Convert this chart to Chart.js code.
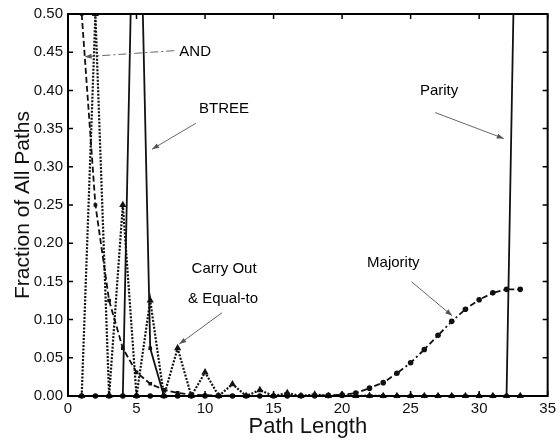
<!DOCTYPE html>
<html>
<head>
<meta charset="utf-8">
<script src="https://cdn.jsdelivr.net/npm/chart.js@4.4.1/dist/chart.umd.min.js"></script>
<style>
  html, body { margin: 0; padding: 0; background: #ffffff; }
  #wrap { width: 560px; height: 442px; position: relative; }
</style>
</head>
<body>
<div id="wrap"><canvas id="c" width="560" height="442"></canvas></div>
<script>
// ---- data ----
const pathLength = [1,2,3,4,5,6,7,8,9,10,11,12,13,14,15,16,17,18,19,20,21,22,23,24,25,26,27,28,29,30,31,32,33];
const andFrac    = [0.5,0.25,0.125,0.0625,0.031,0.016,0.008,0.004,0.002,0.001,0.0005,0.0003,0,0,0,0,0,0,0,0,0,0,0,0,0,0,0,0,0,0,0,0,0];
const carryFrac  = [0,0.5,0,0.25,0,0.125,0,0.0625,0,0.031,0,0.0155,0,0.0078,0,0.004,0,0.002,0,0.001,0,0.0005,0,0,0,0,0,0,0,0,0,0,0];
const btreeFrac  = [0,0,0,0,0.875,0.0625,0,0,0,0,0,0,0,0,0,0,0,0,0,0,0,0,0,0,0,0,0,0,0,0,0,0,0];
const majorityFrac = [0,0,0,0,0,0,0,0,0,0,0,0,0,0,0,0,0.0002,0.0004,0.0008,0.0015,0.0038,0.0103,0.0175,0.0297,0.0435,0.0609,0.0795,0.0977,0.1136,0.126,0.135,0.1396,0.1396];
const parityFrac = [0,0,0,0,0,0,0,0,0,0,0,0,0,0,0,0,0,0,0,0,0,0,0,0,0,0,0,0,0,0,0,0,1.0];

const xTicks = [0,5,10,15,20,25,30,35];
const yTicks = [0,0.05,0.10,0.15,0.20,0.25,0.30,0.35,0.40,0.45,0.50];

// annotation labels & arrows (data units)
const labelTexts = ['AND','BTREE','Carry Out','& Equal-to','Majority','Parity'];
const labelX     = [9.28, 11.39, 11.39, 11.31, 23.74, 27.08];
const labelY     = [0.450, 0.376, 0.167, 0.127, 0.174, 0.400];
const arrowFrom  = [[7.75,0.452],[9.33,0.357],[11.24,0.109],[25.07,0.1495],[26.79,0.371]];
const arrowTo    = [[1.21,0.444],[6.13,0.323],[8.12,0.068],[28.03,0.105],[31.8,0.337]];

function pts(arr){ return pathLength.map((x,i)=>({x:x, y:arr[i]})); }

const FONT = "'Liberation Sans', Arial, Helvetica, sans-serif";

const framePlugin = {
  id: 'framePlugin',
  afterDatasetsDraw(chart) {
    const ctx = chart.ctx;
    const a = chart.chartArea;
    const xs = chart.scales.x, ys = chart.scales.y;
    ctx.save();
    // border
    ctx.strokeStyle = '#000';
    ctx.lineWidth = 2;
    ctx.strokeRect(a.left, a.top, a.right - a.left, a.bottom - a.top);
    // inward ticks
    ctx.lineWidth = 1.5;
    ctx.beginPath();
    xTicks.forEach(v => {
      const px = xs.getPixelForValue(v);
      ctx.moveTo(px, a.bottom); ctx.lineTo(px, a.bottom - 5);
      ctx.moveTo(px, a.top); ctx.lineTo(px, a.top + 5);
    });
    yTicks.forEach(v => {
      const py = ys.getPixelForValue(v);
      ctx.moveTo(a.left, py); ctx.lineTo(a.left + 5, py);
      ctx.moveTo(a.right, py); ctx.lineTo(a.right - 5, py);
    });
    ctx.stroke();
    // annotation texts
    ctx.fillStyle = '#000';
    ctx.font = '15px ' + FONT;
    ctx.textAlign = 'center';
    ctx.textBaseline = 'middle';
    labelTexts.forEach((t,i) => {
      ctx.fillText(t, xs.getPixelForValue(labelX[i]), ys.getPixelForValue(labelY[i]));
    });
    // arrows
    ctx.strokeStyle = '#666';
    ctx.fillStyle = '#555';
    ctx.lineWidth = 1;
    arrowFrom.forEach((f,i) => {
      const x1 = xs.getPixelForValue(f[0]), y1 = ys.getPixelForValue(f[1]);
      const x2 = xs.getPixelForValue(arrowTo[i][0]), y2 = ys.getPixelForValue(arrowTo[i][1]);
      ctx.setLineDash(i === 0 ? [8,3,2,3] : []);
      ctx.beginPath(); ctx.moveTo(x1,y1); ctx.lineTo(x2,y2); ctx.stroke();
      ctx.setLineDash([]);
      const ang = Math.atan2(y2-y1, x2-x1);
      const L = 7, W = 2.5;
      ctx.beginPath();
      ctx.moveTo(x2, y2);
      ctx.lineTo(x2 - L*Math.cos(ang) + W*Math.sin(ang), y2 - L*Math.sin(ang) - W*Math.cos(ang));
      ctx.lineTo(x2 - L*Math.cos(ang) - W*Math.sin(ang), y2 - L*Math.sin(ang) + W*Math.cos(ang));
      ctx.closePath(); ctx.fill();
    });
    ctx.restore();
  }
};

const common = {
  borderColor: '#111', backgroundColor: '#111', pointBorderColor: '#111', pointBackgroundColor: '#111',
  borderWidth: 1.8, fill: false, tension: 0, pointBorderWidth: 0,
  clip: {left: 6, right: 6, top: 0, bottom: 8}
};

new Chart(document.getElementById('c'), {
  type: 'line',
  data: {
    datasets: [
      Object.assign({}, common, { label: 'AND', data: pts(andFrac), borderDash: [6,3], pointStyle: 'rect', pointRadius: 2.6 }),
      Object.assign({}, common, { label: 'Carry Out & Equal-to', data: pts(carryFrac), borderDash: [2,1.5], borderWidth: 2.2, pointStyle: 'triangle', pointRadius: 4.2 }),
      Object.assign({}, common, { label: 'BTREE', data: pts(btreeFrac), pointStyle: 'rect', pointRadius: 2.6 }),
      Object.assign({}, common, { label: 'Majority', data: pts(majorityFrac), borderDash: [6,3,2,3], pointStyle: 'circle', pointRadius: 2.8 }),
      Object.assign({}, common, { label: 'Parity', data: pts(parityFrac), pointStyle: 'circle', pointRadius: 2.2 })
    ]
  },
  options: {
    responsive: false,
    animation: false,
    events: [],
    layout: { padding: { left: 0, right: 10, top: 10, bottom: 0 } },
    plugins: { legend: { display: false }, tooltip: { enabled: false } },
    scales: {
      x: {
        type: 'linear', min: 0, max: 35,
        afterBuildTicks: s => { s.ticks = xTicks.map(v => ({value: v})); },
        afterFit: s => { s.height = 46; },
        grid: { display: false, drawTicks: false },
        border: { display: false },
        ticks: { color: '#111', font: { family: FONT, size: 15 }, padding: 4, maxRotation: 0 },
        title: { display: true, text: 'Path Length', color: '#111', font: { family: FONT, size: 22 }, padding: { top: 0, bottom: 2 } }
      },
      y: {
        type: 'linear', min: 0, max: 0.5,
        afterBuildTicks: s => { s.ticks = yTicks.map(v => ({value: v})); },
        afterFit: s => { s.width = 68; },
        grid: { display: false, drawTicks: false },
        border: { display: false },
        ticks: { color: '#111', font: { family: FONT, size: 15 }, padding: 5, callback: v => v.toFixed(2) },
        title: { display: true, text: 'Fraction of All Paths', color: '#111', font: { family: FONT, size: 21 }, padding: { top: 11, bottom: 0 } }
      }
    }
  },
  plugins: [framePlugin]
});
</script>
</body>
</html>
